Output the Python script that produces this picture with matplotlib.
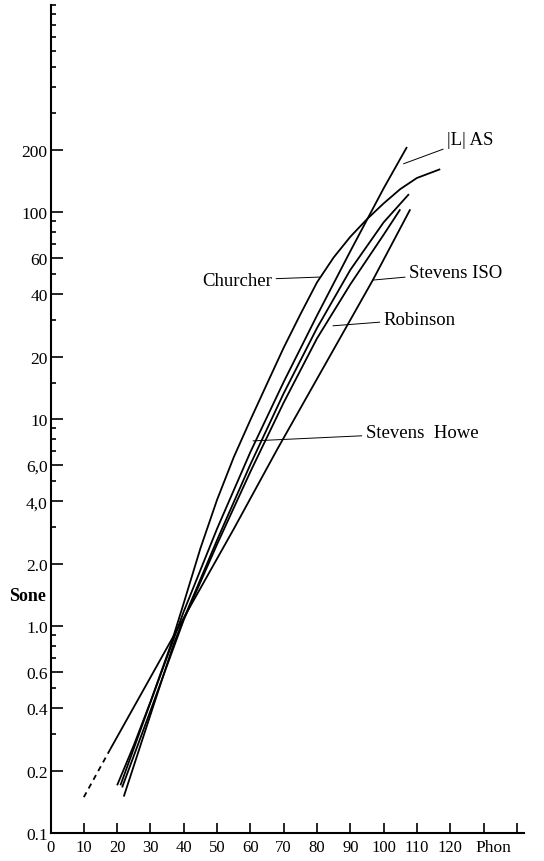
import matplotlib.pyplot as plt
from matplotlib.ticker import FixedLocator, FixedFormatter, NullFormatter

plt.rcParams['font.family'] = ['Liberation Serif', 'DejaVu Serif']

# Values (phon -> sone)
churcher_phon = [20, 25, 30, 36, 40, 45, 50, 55, 60, 65, 70, 75, 80, 85, 90,
                 95, 100, 105, 110, 117]
churcher_sone = [0.17, 0.265, 0.43, 0.80, 1.29, 2.37, 4.07, 6.53, 9.89, 14.8,
                 22.1, 32, 45.7, 60.3, 75.9, 92.3, 110, 129, 146, 161]

llas_phon = [21, 30, 40, 50, 60, 70, 80, 90, 100, 107]
llas_sone = [0.17, 0.427, 1.175, 2.95, 6.92, 15.1, 31.6, 64.6, 130, 206]

curve3_phon = [22, 30, 37, 40, 50, 60, 70, 80, 90, 100, 107.6]
curve3_sone = [0.15, 0.372, 0.82, 1.084, 2.6, 6.03, 13.3, 27.5, 52.5, 89.1, 122]

curve4_phon = [21.5, 30, 40, 50, 60, 70, 80, 90, 100, 105]
curve4_sone = [0.166, 0.389, 1.07, 2.48, 5.56, 12.0, 24.5, 44.7, 77.6, 103]

iso_dash_phon = [10, 18]
iso_dash_sone = [0.149, 0.255]
iso_phon = [18, 36, 55, 68.2, 96.8, 108]
iso_sone = [0.255, 0.84, 2.94, 7.2, 47, 103]

# label text position, point on curve
labels = ["|L| AS", "Churcher", "Stevens ISO", "Robinson", "Stevens  Howe"]
label_xy = [(119.1, 225), (66.5, 46.9), (107.7, 51), (100.1, 30.4), (94.7, 8.56)]
label_tip = [(106, 171), (81, 48.5), (96.8, 46.9), (84.8, 28.2), (60.8, 7.84)]
label_ha = ["left", "right", "left", "left", "left"]

x_ticks = list(range(0, 150, 10))
x_ticklabels = [str(v) for v in range(0, 130, 10)] + ["", ""]
y_major = [0.1, 0.2, 0.4, 0.6, 1.0, 2.0, 4.0, 6.0, 10, 20, 40, 60, 100, 200]
y_major_labels = ["0.1", "0.2", "0.4", "0.6", "1.0", "2.0", "4,0", "6,0",
                  "10", "20", "40", "60", "100", "200"]
y_minor = [0.3, 0.5, 0.7, 0.8, 0.9, 3, 5, 7, 8, 9, 15, 30, 50, 70, 80, 90,
           300, 400, 500, 600, 700, 800, 900, 1000]

fig = plt.figure(figsize=(5.44, 8.62), dpi=100)
ax = fig.add_axes([50.5 / 544, 28 / 862, 473 / 544, 828 / 862])
ax.set_yscale('log')
ax.set_xlim(0, 142)
ax.set_ylim(0.1, 1000)

lw = 1.3
for px, sy in [(churcher_phon, churcher_sone), (llas_phon, llas_sone),
               (curve3_phon, curve3_sone), (curve4_phon, curve4_sone),
               (iso_phon, iso_sone)]:
    ax.plot(px, sy, color='black', lw=lw, solid_capstyle='butt',
            solid_joinstyle='round')
ax.plot(iso_dash_phon, iso_dash_sone, color='black', lw=lw, ls=(0, (3, 2.5)))

for txt, xy, tip, ha in zip(labels, label_xy, label_tip, label_ha):
    ax.annotate(txt, xy=tip, xytext=xy, ha=ha, va='center', fontsize=13.5,
                arrowprops=dict(arrowstyle='-', color='black', lw=0.7,
                                shrinkA=1, shrinkB=0))

for s in ['top', 'right']:
    ax.spines[s].set_visible(False)
ax.spines['left'].set_linewidth(1.5)
ax.spines['bottom'].set_linewidth(1.5)

ax.xaxis.set_major_locator(FixedLocator(x_ticks))
ax.xaxis.set_major_formatter(FixedFormatter(x_ticklabels))
ax.yaxis.set_major_locator(FixedLocator(y_major))
ax.yaxis.set_major_formatter(FixedFormatter(y_major_labels))
ax.yaxis.set_minor_locator(FixedLocator(y_minor))
ax.yaxis.set_minor_formatter(NullFormatter())
ax.tick_params(axis='x', direction='in', length=7, width=1.2, labelsize=12, pad=4)
ax.tick_params(axis='y', which='major', direction='in', length=8.5, width=1.2,
               labelsize=12.5, pad=2)
ax.tick_params(axis='y', which='minor', direction='in', length=3.5, width=1.2)

ax.annotate("Phon", xy=(133, 0.1), xytext=(0, -4), textcoords='offset points',
            ha='center', va='top', fontsize=12.5)
ax.annotate("Sone", xy=(0, 1.4), xytext=(-3, 0), textcoords='offset points',
            ha='right', va='center', fontsize=13, fontweight='bold')

fig.savefig("out.png", dpi=100)
